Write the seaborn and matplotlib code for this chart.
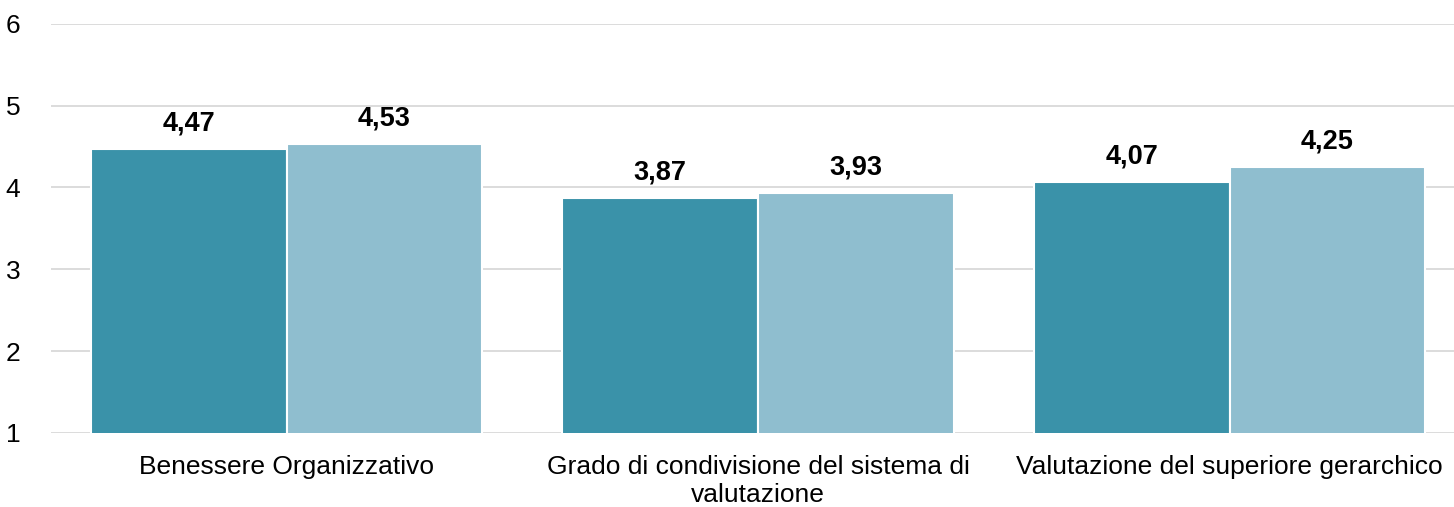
import pandas as pd
import numpy as np
import seaborn as sns
import matplotlib.pyplot as plt

# --- Data ---
categories = [
    'Benessere Organizzativo',
    'Grado di condivisione del sistema di\nvalutazione',
    'Valutazione del superiore gerarchico',
]
series_names = ['Serie 1', 'Serie 2']
values_1 = [4.47, 3.87, 4.07]
values_2 = [4.53, 3.93, 4.25]
colors = ['#3a92a9', '#8fbecf']

df = pd.DataFrame({
    'Categoria': categories * 2,
    'Serie': [series_names[0]] * 3 + [series_names[1]] * 3,
    'Valore': values_1 + values_2,
})

sns.set_theme(style="white")
plt.rcParams['font.family'] = ['Liberation Sans', 'DejaVu Sans']

fig = plt.figure(figsize=(14.54, 5.07), dpi=100)
ax = fig.add_axes([0.035, 0.146, 0.965, 0.807])

sns.barplot(
    data=df, x='Categoria', y='Valore', hue='Serie',
    palette=colors, saturation=1, width=0.83, edgecolor='white', linewidth=1.5,
    legend=False, ax=ax,
)

# value labels, Italian decimal comma
for cont in ax.containers:
    labels = [f"{b.get_height():.2f}".replace('.', ',') for b in cont]
    ax.bar_label(cont, labels=labels, padding=9, fontsize=19.5, fontweight='bold', color='black')

ax.set_ylim(1, 6)
ax.set_yticks([1, 2, 3, 4, 5, 6])
ax.set_xlim(-0.5, 2.476)
ax.yaxis.grid(True, color='#d9d9d9', linewidth=1.3)
ax.set_axisbelow(True)
for s in ax.spines.values():
    s.set_visible(False)
ax.tick_params(axis='y', length=0, labelsize=19, pad=22, colors='black')
ax.tick_params(axis='x', length=0, labelsize=19, pad=16, colors='black')
ax.set_xlabel('')
ax.set_ylabel('')

fig.savefig('out.png', dpi=100)
